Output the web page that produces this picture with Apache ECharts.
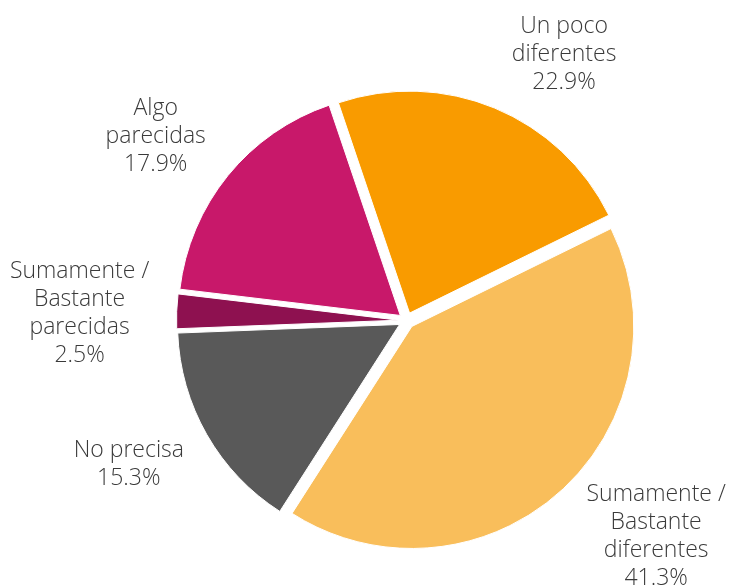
<!DOCTYPE html>
<html><head><meta charset="utf-8">
<script src="https://cdn.jsdelivr.net/npm/echarts@6/dist/echarts.min.js"></script>
<style>html,body{margin:0;padding:0;background:#fff}#c{width:734px;height:587px}</style>
</head><body><div id="c"></div>
<script>
const categories = ["Un poco\ndiferentes", "Sumamente /\nBastante\ndiferentes", "No precisa", "Sumamente /\nBastante\nparecidas", "Algo\nparecidas"];
const values = [22.9, 41.3, 15.3, 2.5, 17.9];
const colors = ["#F99B00", "#F9BE5B", "#595959", "#8E1150", "#C8186A"];
// label placement (style): angular shift from slice middle (deg) and distance from pie centre (px)
const labelAngleShift = [8.1, -7.4, 2.3, -1.1, -2.8];
const labelDistance = [309, 330, 313, 327, 311];

const CX = 406.5, CY = 320.5, R = 222, START = 108.7; // START: echarts angle (deg, ccw from 3 o'clock)
const total = values.reduce((a, b) => a + b, 0);
const midAngles = [];
let acc = 0;
values.forEach(v => { midAngles.push(START - (acc + v / 2) / total * 360); acc += v; });

const labelFont = '300 23px "Open Sans"';
const labels = categories.map((n, i) => {
  const a = (midAngles[i] - labelAngleShift[i]) * Math.PI / 180;
  return {
    type: 'text',
    x: CX + labelDistance[i] * Math.cos(a),
    y: CY - labelDistance[i] * Math.sin(a),
    style: {
      text: n + '\n' + values[i].toFixed(1) + '%',
      font: labelFont, fill: '#3a3a3a', lineHeight: 28,
      align: 'center', verticalAlign: 'middle',
      textAlign: 'center', textVerticalAlign: 'middle'
    }
  };
});

const chart = echarts.init(document.getElementById('c'));
chart.setOption({
  animation: false,
  series: [{
    type: 'pie',
    center: [CX, CY],
    radius: [0, R],
    startAngle: START,
    selectedMode: 'multiple',
    selectedOffset: 8,
    data: categories.map((n, i) => ({
      name: n, value: values[i], selected: true,
      itemStyle: { color: colors[i] }
    })),
    itemStyle: { borderColor: '#fff', borderWidth: 1 },
    label: { show: false },
    labelLine: { show: false },
    emphasis: { disabled: true }
  }],
  graphic: labels
});
</script></body></html>
